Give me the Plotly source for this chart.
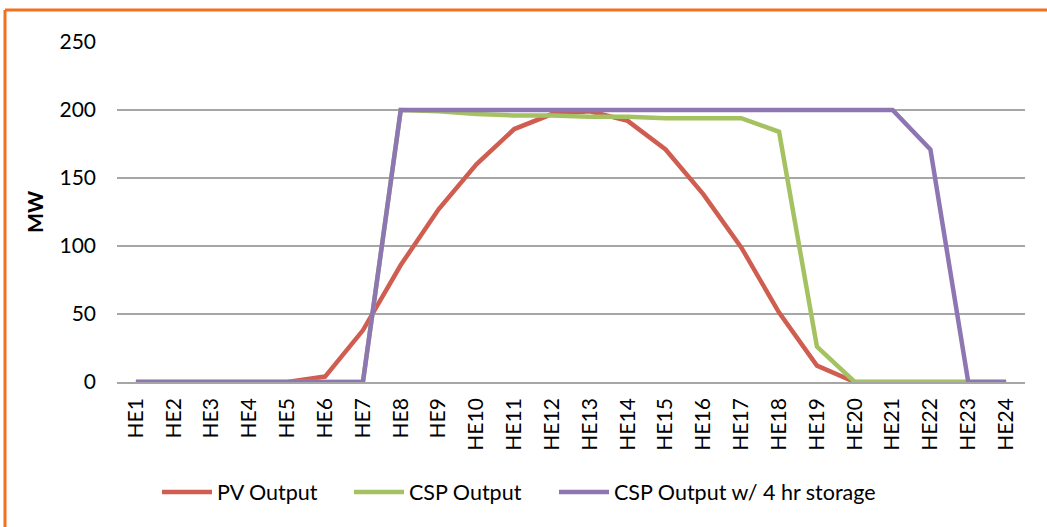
import plotly.graph_objects as go

hours = ["HE%d" % i for i in range(1, 25)]
pv_output = [0, 0, 0, 0, 0, 4, 38, 86, 127, 160, 186, 197, 199, 192, 171, 138, 99, 51, 12, 0, 0, 0, 0, 0]
csp_output = [0, 0, 0, 0, 0, 0, 0, 200, 199, 197, 196, 196, 195, 195, 194, 194, 194, 184, 26, 0, 0, 0, 0, 0]
csp_storage = [0, 0, 0, 0, 0, 0, 0, 200, 200, 200, 200, 200, 200, 200, 200, 200, 200, 200, 200, 200, 200, 171, 0, 0]

series_names = ["PV Output", "CSP Output", "CSP Output w/ 4 hr storage"]
series_colors = ["#CF5E51", "#A5C262", "#8D76B1"]
y_ticks = [0, 50, 100, 150, 200, 250]

FONT = "Lato"
W, H = 1047, 527
L, R, T, B = 117, 22, 42, 145
pw, ph = W - L - R, H - T - B


def px_x(x):
    return (x - L) / pw


def px_y(y):
    return (H - B - y) / ph


legend_ids = ["legend", "legend2", "legend3"]
legend_left_px = [157, 349, 554]

fig = go.Figure()
for name, vals, col, lid in zip(series_names, [pv_output, csp_output, csp_storage], series_colors, legend_ids):
    fig.add_trace(go.Scatter(
        x=hours, y=vals, name=name, mode="lines",
        line=dict(color=col, width=4.5), legend=lid,
    ))

legend_layout = {}
for lid, lx in zip(legend_ids, legend_left_px):
    legend_layout[lid] = dict(
        orientation="h", x=px_x(lx), y=px_y(492), xanchor="left", yanchor="middle",
        font=dict(family=FONT, size=21.5, color="black"),
        itemwidth=50, bgcolor="rgba(0,0,0,0)",
    )

fig.update_layout(
    width=W, height=H,
    margin=dict(l=L, r=R, t=T, b=B, autoexpand=False),
    paper_bgcolor="white", plot_bgcolor="white",
    font=dict(family=FONT, size=21, color="black"),
    showlegend=True,
    shapes=[
        dict(type="line", xref="paper", yref="paper", x0=px_x(5), x1=px_x(1060),
             y0=px_y(10), y1=px_y(10), line=dict(color="#F37021", width=3)),
        dict(type="line", xref="paper", yref="paper", x0=px_x(5), x1=px_x(5),
             y0=px_y(10), y1=px_y(540), line=dict(color="#F37021", width=3)),
    ],
    **legend_layout,
)

fig.update_xaxes(
    type="category", range=[-0.5, 23.5],
    showgrid=False, showline=True, linecolor="#A6A6A6", linewidth=1.5,
    tickangle=-90, ticks="", ticklabelstandoff=6,
    tickfont=dict(family=FONT, size=21, color="black"),
)
fig.update_yaxes(
    range=[0, 250], tickvals=y_ticks,
    showgrid=True, gridcolor="#A6A6A6", gridwidth=1.5,
    zeroline=False, showline=False, ticks="", ticklabelstandoff=20,
    tickfont=dict(family=FONT, size=21, color="black"),
    title=dict(text="<b>MW</b>", standoff=10, font=dict(family=FONT, size=21, color="black")),
)

fig.write_html("out.html", config={"displayModeBar": False},
               post_script="document.body.style.margin='0px';")
